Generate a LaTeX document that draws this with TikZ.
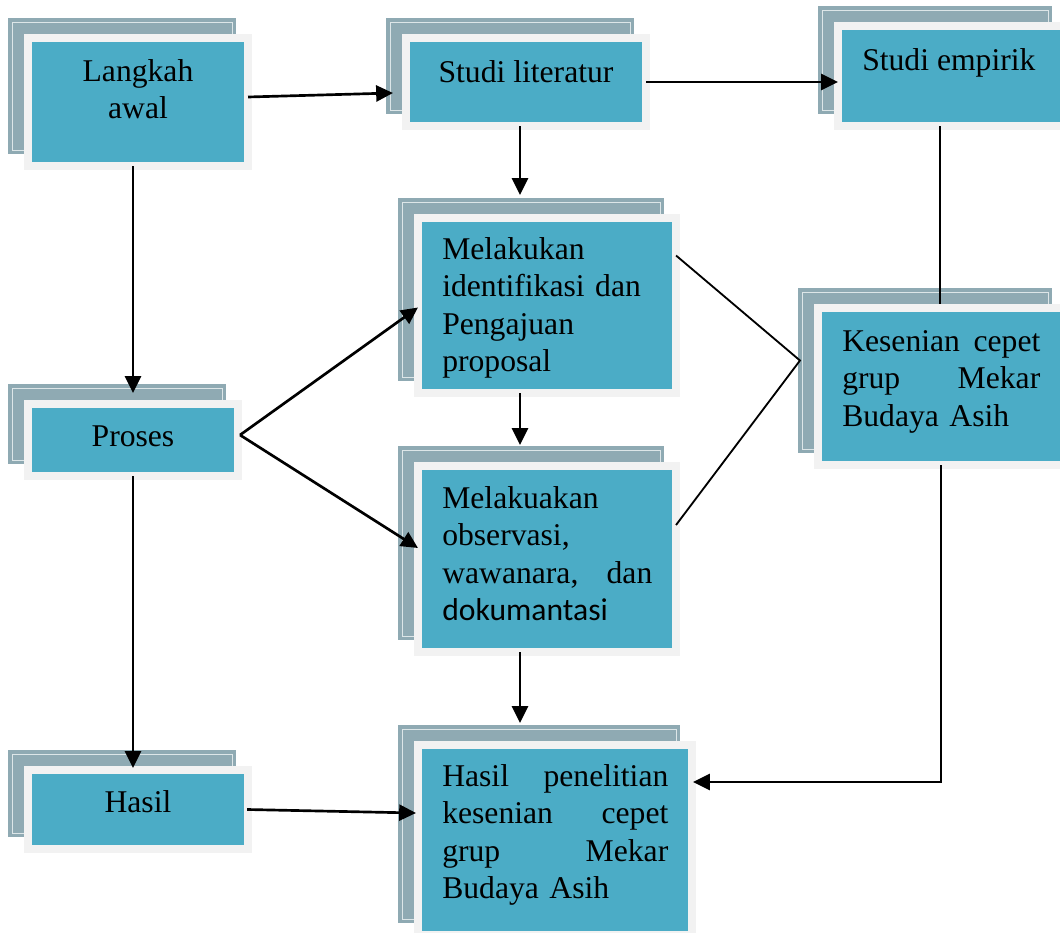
\documentclass[tikz,border=0pt]{standalone}
\usepackage{fontspec}
\setmainfont{Liberation Serif}
\newfontfamily\calibrifont{Carlito}
\usetikzlibrary{arrows.meta, positioning, calc}

\definecolor{tealfill}{HTML}{4BACC6}
\definecolor{backgrey}{HTML}{8FAAB3}
\definecolor{rimgrey}{HTML}{F2F2F2}

\begin{document}
\begin{tikzpicture}[
    x=0.025cm, y=-0.025cm,
    box/.style={draw=rimgrey, fill=tealfill, line width=0.2cm, inner sep=0, outer sep=0,
      preaction={draw=backgrey, fill=backgrey, line width=0.2cm,
                 transform canvas={shift={(-16,-16)}}},
      preaction={draw=white!70!backgrey, fill=none, line width=0.5pt,
                 transform canvas={shift={(-16,-16)}}}},
    txt/.style={inner sep=0, font=\fontsize{22.5}{26.6}\selectfont},
    arr/.style={-{Triangle[length=0.42cm, width=0.4cm]}, line width=1.9pt},
    link/.style={line width=1.3pt},
  ]

  \useasboundingbox[fill=white] (0,0) rectangle (1060,933);

  % ---- boxes ----
  \node[box, minimum width=5.5cm,  minimum height=3.2cm]   (langkah)   at (138,102)   {};
  \node[box, minimum width=6cm,    minimum height=2.2cm]   (studi)     at (526,82)    {};
  \node[box, minimum width=5.65cm, minimum height=2.5cm]   (empirik)   at (951,76)    {};
  \node[box, minimum width=5.25cm, minimum height=1.8cm]   (proses)    at (133,440)   {};
  \node[box, minimum width=6.45cm, minimum height=4.375cm] (melakukan) at (547,305.5) {};
  \node[box, minimum width=6.45cm, minimum height=4.65cm]  (observasi) at (547,559)   {};
  \node[box, minimum width=6.15cm, minimum height=3.925cm] (kesenian)  at (941,386.5) {};
  \node[box, minimum width=5.5cm,  minimum height=1.975cm] (hasil)     at (138,809.5) {};
  \node[box, minimum width=6.85cm, minimum height=4.75cm]  (hasilp)    at (555,840)   {};

  % ---- texts ----
  \node[txt, anchor=north, align=center] (langkahT) at (138,59) {Langkah\\awal};
  \node[txt, anchor=north] (studiT) at (526,60) {Studi literatur};
  \node[txt, anchor=north west] (empirikT) at (862,48) {Studi empirik};
  \node[txt, anchor=north] (prosesT) at (133,425) {Proses};
  \node[txt, anchor=north west, text width=5.25cm, align=left] (melakukanT) at (442,237)
    {Melakukan\\identifikasi dan\\Pengajuan\\proposal};
  \node[txt, anchor=north west, text width=5.25cm, align=left] (observasiT) at (442,486)
    {Melakuakan\\observasi,\\wawanara,\hfill dan\\{\calibrifont dokumantasi}};
  \node[txt, anchor=north west, text width=4.95cm, align=left] (kesenianT) at (842,330)
    {Kesenian\hfill cepet\\grup\hfill Mekar\\Budaya Asih};
  \node[txt, anchor=north] (hasilT) at (138,790) {Hasil};
  \node[txt, anchor=north west, text width=5.65cm, align=left] (hasilpT) at (442,764)
    {Hasil\hfill penelitian\\kesenian\hfill cepet\\grup\hfill Mekar\\Budaya Asih};

  % ---- connectors ----
  \draw[arr] ($(langkah.east)+(0,-5)$) -- ($(studi.west)+(-13,11)$);
  \draw[arr] (studi.east) -- (studi.east -| empirik.west);
  \draw[arr] ($(studi.south)+(-6,0)$) -- ($(melakukan.north)+(-27,-23)$);
  \draw[arr] ($(langkah.south)+(-5,0)$) -- ($(proses.north)+(0,-11)$);
  \draw[arr] (proses.south) -- ($(hasil.north)+(-5,-2)$);
  \draw[arr] ($(proses.east)+(2,-5)$) -- ($(melakukan.west)+(0,2)$);
  \draw[arr] ($(proses.east)+(2,-5)$) -- ($(observasi.west)+(0,-11)$);
  \draw[arr] ($(melakukan.south)+(-27,0)$) -- ($(observasi.north)+(-27,-21)$);
  \draw[arr] ($(observasi.south)+(-27,0)$) -- ($(hasilp.north)+(-35,-22)$);
  \draw[arr] ($(hasil.east)+(-1,0)$) -- ($(hasilp.west)+(-2,-27)$);
  \draw[link] ($(empirik.south)+(-11,0)$) -- ($(kesenian.north)+(-1,-4)$);
  \draw[arr] (kesenian.south) |- ($(hasilp.east)+(1,-58)$);

  \coordinate (meet) at ($(kesenian.west)+(-18,-26)$);
  \draw[link] ($(melakukan.east)+(0,-50)$) -- (meet) -- ($(observasi.east)+(0,-34)$);

\end{tikzpicture}
\end{document}
